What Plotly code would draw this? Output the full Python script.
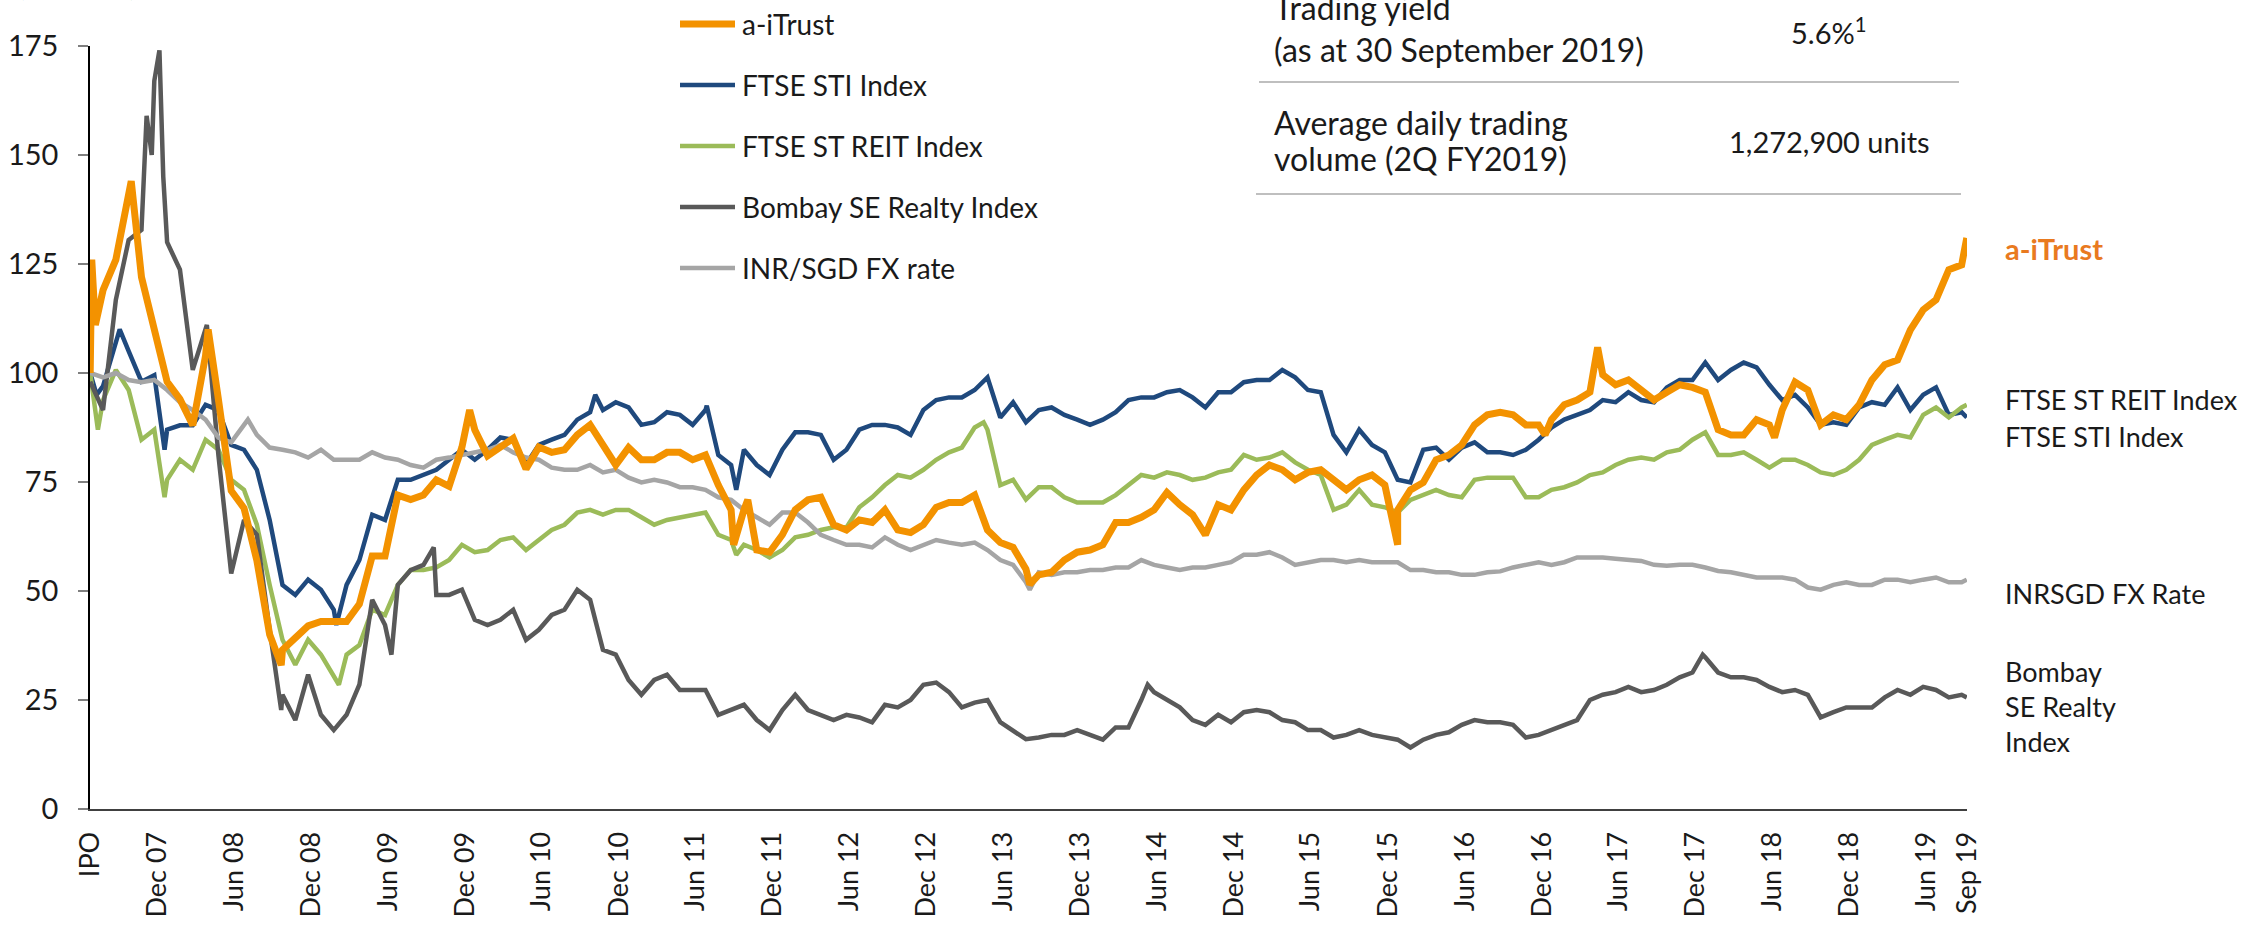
import plotly.graph_objects as go
import pandas as pd

# ---------------- data ----------------
IPO_DATE = "2007-07-19"
MONTHS = list(range(147)) + [146.4]          # months since IPO
DAYS_PER_MONTH = 30.437

SERIES_NAMES = ["a-iTrust", "FTSE STI Index", "FTSE ST REIT Index",
                "Bombay SE Realty Index", "INR/SGD FX rate"]

A_ITRUST = [100, 119, 126, 140, 122, 110, 98, 94, 88, 104, 94, 73, 69, 57, 40, 36.5, 39, 42, 43, 43,
            43, 47, 58, 58, 72, 71, 72, 75.5, 74, 83, 87, 81, 83, 85, 78, 83, 81.8, 82.4, 85.8, 88.1,
            83.5, 78.9, 82.9, 80.1, 80.1, 81.8, 81.8, 80.1, 81.2, 74.3, 68.6, 68.6, 59.4, 58.9, 62.9, 68.6, 70.9, 71.5, 65.2, 64,
            66.3, 65.7, 68.6, 64, 63.4, 65.2, 69.2, 70.3, 70.3, 72, 64, 61.1, 60, 55, 53.7, 54.3, 57.1, 58.9, 59.4, 60.6,
            65.7, 65.7, 66.9, 68.6, 72.6, 69.8, 67.5, 62.9, 69.8, 68.6, 73.2, 76.6, 78.9, 77.8, 75.5, 77.2, 77.8, 75.5, 73.2, 75.5,
            76.6, 74.3, 68.6, 73.2, 74.9, 80.1, 81.2, 83.5, 88.1, 90.4, 91, 90.4, 88.1, 88.1, 89.3, 92.7, 93.8, 95.6, 99.6, 97.3,
            98.4, 96.1, 93.8, 95.6, 97.3, 96.7, 95.6, 87, 85.8, 85.8, 89.3, 88.1, 91.5, 97.9, 96.1, 88.1, 90.4, 89.3, 92.7, 98.4,
            101.9, 103, 109.9, 114.5, 116.8, 123.7, 124.8, 131]
A_ITRUST_EXTRA_M = [0.12, 0.4, 3.2, 9.2, 14.9, 29.6, 50.2, 51.3, 73.3, 102.0, 113.5, 117.6, 131.4]
A_ITRUST_EXTRA_V = [126, 111, 144, 110, 33, 91.5, 60.6, 70.9, 51.5, 60.6, 85.8, 105.9, 85.2]

STI = [100, 97, 107.6, 105, 98, 99.5, 87, 88, 88, 92.7, 91.5, 83.5, 82.4, 77.8, 66.3, 51.4, 49.1, 52.6, 50.3, 45.7,
       51.4, 57.1, 67.5, 66.3, 75.5, 75.5, 76.6, 77.8, 80.1, 82.4, 80.1, 82.4, 85.2, 84.7, 79, 83.5, 84.7, 85.8, 89.3, 91,
       91.5, 93.3, 92.1, 88.1, 88.7, 91, 90.4, 88.1, 91.5, 81.2, 78.9, 82.4, 78.9, 76.6, 82.4, 86.4, 86.4, 85.8, 80.1, 82.4,
       87, 88.1, 88.1, 87.5, 85.8, 91.5, 93.8, 94.4, 94.4, 96.1, 99, 89.8, 93.3, 88.7, 91.5, 92.1, 90.4, 89.3, 88.1, 89.3,
       91, 93.8, 94.4, 94.4, 95.6, 96.1, 94.4, 92.1, 95.6, 95.6, 97.9, 98.4, 98.4, 100.7, 99, 96.1, 95.6, 85.8, 81.8, 87,
       83.5, 81.8, 75.5, 74.9, 82.4, 82.9, 80.1, 82.9, 84.1, 81.8, 81.8, 81.2, 82.4, 84.7, 87.5, 89.3, 90.4, 91.5, 93.8, 93.3,
       95.6, 93.8, 93.3, 96.7, 98.4, 98.4, 102.4, 98.4, 100.7, 102.4, 101.3, 97.3, 93.8, 95, 92.1, 88.1, 88.7, 88.1, 92.1, 93.3,
       92.7, 96.7, 91.5, 95, 96.7, 90.4, 91, 89.8]
STI_EXTRA_M = [0.5, 2.3, 5.8, 19.2, 39.4, 48.1, 50.4]
STI_EXTRA_V = [95, 110, 82.4, 42.2, 95, 92.5, 73.2]

REIT = [100, 93.8, 100.7, 96.1, 84.7, 87, 75.5, 80.1, 77.8, 84.7, 82.4, 75.5, 73.2, 65.2, 51.4, 38.8, 33.1, 38.8, 35.4, 30.8,
        35.4, 37.6, 45.7, 44.5, 51.4, 54.8, 54.8, 55.4, 57.1, 60.6, 58.9, 59.4, 61.7, 62.3, 59.4, 61.7, 64, 65.2, 68, 68.6,
        67.5, 68.6, 68.6, 66.9, 65.2, 66.3, 66.9, 67.5, 68, 62.9, 61.7, 60.6, 59.4, 57.7, 59.4, 62.3, 62.9, 64, 64.6, 64.6,
        69.2, 71.5, 74.3, 76.6, 76, 77.8, 80.1, 81.8, 82.9, 87.5, 87, 74.3, 75.5, 71, 73.8, 73.8, 71.5, 70.3, 70.3, 70.3,
        72, 74.3, 76.6, 76, 77.2, 76.6, 75.5, 76, 77.2, 77.8, 81.2, 80.1, 80.6, 81.8, 79.5, 77.8, 76.6, 68.6, 69.8, 73.2,
        69.8, 69.2, 68, 70.9, 72, 73.2, 72, 71.5, 75.5, 76, 76, 76, 71.5, 71.5, 73.2, 73.8, 74.9, 76.6, 77.2, 78.9,
        80.1, 80.6, 80.1, 81.8, 82.4, 84.7, 86.4, 81.2, 81.2, 81.8, 80.1, 78.3, 80.1, 80.1, 78.9, 77.2, 76.6, 77.8, 80.1, 83.5,
        84.7, 85.8, 85.2, 90.4, 92.1, 89.8, 92.1, 92.7]
REIT_EXTRA_M = [0.6, 5.8, 19.4, 50.4, 69.7]
REIT_EXTRA_V = [87, 71.5, 28.5, 58.3, 88.7]

BOMBAY = [98, 91.5, 116.8, 130.5, 132.8, 167, 130, 123.7, 100.7, 109.9, 81.2, 54, 66.3, 62.9, 41.1, 26.2, 20.4, 30.8, 21.6, 18.1,
          21.6, 28.5, 48, 42.2, 51.4, 54.8, 56, 49.1, 49.1, 50.3, 43.4, 42.2, 43.4, 45.7, 38.8, 41.1, 44.5, 45.7, 50.3, 48,
          36.5, 35.4, 29.6, 26.2, 29.6, 30.8, 27.3, 27.3, 27.3, 21.6, 22.7, 23.9, 20.4, 18.1, 22.7, 26.2, 22.7, 21.6, 20.4, 21.6,
          21, 19.9, 23.9, 23.3, 25, 28.5, 29, 26.8, 23.3, 24.4, 25, 19.9, 18.1, 16, 16.4, 17, 17, 18.1, 17, 15.9,
          18.7, 18.7, 25, 26.8, 25, 23.3, 20.4, 19.3, 21.6, 19.9, 22.2, 22.7, 22.2, 20.4, 19.9, 18.1, 18.1, 16.4, 17, 18.1,
          17, 16.4, 15.9, 14.1, 15.9, 17, 17.6, 19.3, 20.4, 19.9, 19.9, 19.3, 16.4, 17, 18.1, 19.3, 20.4, 25, 26.2, 26.8,
          28, 26.8, 27.3, 28.5, 30.2, 31.3, 34.8, 31.3, 30.2, 30.2, 29.6, 28, 26.8, 27.3, 26.2, 21, 22.2, 23.3, 23.3, 23.3,
          25.6, 27.3, 26.2, 28, 27.3, 25.6, 26.2, 25.6]
BOMBAY_EXTRA_M = [4.4, 4.8, 5.4, 5.7, 9.1, 14.9, 23.5, 26.8, 82.5, 125.8]
BOMBAY_EXTRA_V = [159, 150, 174, 145, 111, 22.7, 35.4, 60, 28.5, 35.4]

INRSGD = [100, 99, 100, 98.4, 97.9, 98.4, 96.1, 93.3, 91.5, 89.3, 85.2, 84.1, 88.1, 85.8, 82.9, 82.4, 81.8, 80.6, 82.4, 80.1,
          80.1, 80.1, 81.8, 80.6, 80.1, 78.9, 78.3, 80.1, 80.6, 81.2, 81.8, 82.4, 83.5, 81.8, 80.6, 80.1, 78.3, 77.8, 77.8, 78.9,
          77.2, 77.8, 76, 74.9, 75.5, 74.9, 73.8, 73.8, 73.2, 71.5, 70.9, 68.6, 66.9, 65.2, 68, 68, 65.7, 62.9, 61.7, 60.6,
          60.6, 60, 62.3, 60.6, 59.4, 60.6, 61.7, 61.1, 60.6, 61.1, 59.4, 57.1, 56, 52, 54.3, 53.7, 54.3, 54.3, 54.8, 54.8,
          55.4, 55.4, 57.1, 56, 55.4, 54.8, 55.4, 55.4, 56, 56.6, 58.3, 58.3, 58.9, 57.7, 56, 56.6, 57.1, 57.1, 56.6, 57.1,
          56.6, 56.6, 56.6, 54.8, 54.8, 54.3, 54.3, 53.7, 53.7, 54.3, 54.5, 55.4, 56, 56.6, 56, 56.6, 57.7, 57.7, 57.7, 57.4,
          57.1, 56.9, 56, 55.8, 56, 56, 55.4, 54.6, 54.3, 53.7, 53.1, 53.1, 53.1, 52.6, 50.8, 50.3, 51.4, 52, 51.4, 51.4,
          52.6, 52.6, 52, 52.6, 53.1, 52, 52, 52.6]
INRSGD_EXTRA_M = [12.3, 73.3]
INRSGD_EXTRA_V = [89.3, 50.3]

TICK_TEXT = ["IPO", "Dec 07", "Jun 08", "Dec 08", "Jun 09", "Dec 09", "Jun 10", "Dec 10", "Jun 11", "Dec 11",
             "Jun 12", "Dec 12", "Jun 13", "Dec 13", "Jun 14", "Dec 14", "Jun 15", "Dec 15", "Jun 16", "Dec 16",
             "Jun 17", "Dec 17", "Jun 18", "Dec 18", "Jun 19", "Sep 19"]
TICK_DATES = ["2007-07-19", "2007-12-25", "2008-06-25", "2008-12-25", "2009-06-25", "2009-12-25", "2010-06-25",
              "2010-12-25", "2011-06-25", "2011-12-25", "2012-06-25", "2012-12-25", "2013-06-25", "2013-12-25",
              "2014-06-25", "2014-12-25", "2015-06-25", "2015-12-25", "2016-06-25", "2016-12-25", "2017-06-25",
              "2017-12-25", "2018-06-25", "2018-12-25", "2019-06-25", "2019-09-30"]
Y_TICKS = [0, 25, 50, 75, 100, 125, 150, 175]

RIGHT_LABELS = ["a-iTrust", "FTSE ST REIT Index", "FTSE STI Index", "INRSGD FX Rate", "Bombay<br>SE Realty<br>Index"]
TABLE_ROW1 = ["Trading yield", "(as at 30 September 2019)"]
TABLE_VAL1 = "5.6%<sup>1</sup>"
TABLE_ROW2 = ["Average daily trading", "volume (2Q FY2019)"]
TABLE_VAL2 = "1,272,900 units"
UNIT_LABEL = "(Rebased)"

# ---------------- styling / layout ----------------
COLORS = ["#F39200", "#1F497D", "#9BBB59", "#595959", "#A5A5A5"]
WIDTHS = [7, 4.5, 4.5, 4.5, 4.5]
W, H = 2246, 929
L, R, T, B = 90, 279, 46, 120
PW, PH = W - L - R, H - T - B
FONT = "Lato"
TXT = "#1a1a1a"


def px_x(px):
    return (px - L) / PW


def px_y(py):
    return (H - B - py) / PH


def to_dates(months):
    base = pd.Timestamp(IPO_DATE)
    return [base + pd.Timedelta(days=m * DAYS_PER_MONTH) for m in months]


series = [
    (A_ITRUST, A_ITRUST_EXTRA_M, A_ITRUST_EXTRA_V),
    (STI, STI_EXTRA_M, STI_EXTRA_V),
    (REIT, REIT_EXTRA_M, REIT_EXTRA_V),
    (BOMBAY, BOMBAY_EXTRA_M, BOMBAY_EXTRA_V),
    (INRSGD, INRSGD_EXTRA_M, INRSGD_EXTRA_V),
]

fig = go.Figure()
order = [1, 2, 3, 4, 0]
for i in order:
    vals, em, ev = series[i]
    pts = sorted(list(zip(MONTHS, vals)) + list(zip(em, ev)))
    fig.add_trace(go.Scatter(
        x=to_dates([p[0] for p in pts]), y=[p[1] for p in pts],
        mode="lines", name=SERIES_NAMES[i],
        line=dict(color=COLORS[i], width=WIDTHS[i]),
        showlegend=False,
    ))

start = pd.Timestamp(IPO_DATE) - pd.Timedelta(hours=12)
end = pd.Timestamp(TICK_DATES[-1]) + pd.Timedelta(hours=12)

fig.update_layout(
    width=W, height=H,
    margin=dict(l=L, r=R, t=T, b=B, autoexpand=False),
    plot_bgcolor="white", paper_bgcolor="white",
    font=dict(family=FONT, size=28, color=TXT),
    showlegend=False,
)
fig.update_xaxes(
    type="date", range=[start, end],
    tickvals=[pd.Timestamp(d) for d in TICK_DATES], ticktext=TICK_TEXT,
    tickangle=-90, ticks="", ticklabelstandoff=10,
    tickfont=dict(family=FONT, size=27, color=TXT),
    showgrid=False, zeroline=False,
    showline=True, linecolor="#404040", linewidth=2,
)
fig.update_yaxes(
    range=[0, 175], tickvals=Y_TICKS,
    ticks="outside", ticklen=10, tickcolor="#7f7f7f", tickwidth=1.5,
    ticklabelstandoff=14,
    tickfont=dict(family=FONT, size=29, color=TXT),
    showgrid=False, zeroline=False,
    showline=True, linecolor="#000000", linewidth=1.5,
)

shapes = []
annotations = []

# custom legend
LEG_Y = [24, 85, 146, 207, 268]
for i, name in enumerate(SERIES_NAMES):
    shapes.append(dict(type="line", xref="paper", yref="paper",
                       x0=px_x(680), x1=px_x(735), y0=px_y(LEG_Y[i]), y1=px_y(LEG_Y[i]),
                       line=dict(color=COLORS[i], width=WIDTHS[i]), layer="above"))
    annotations.append(dict(xref="paper", yref="paper", x=px_x(740), y=px_y(LEG_Y[i]),
                            xanchor="left", yanchor="middle", showarrow=False,
                            text=name, font=dict(family=FONT, size=28, color=TXT)))

# right-hand labels
RIGHT_Y = [248, 399, 436, 593, 706]
for j, lab in enumerate(RIGHT_LABELS):
    if j == 0:
        f = dict(family=FONT, size=29, color="#E97A1F")
        txt = "<b>" + lab + "</b>"
    else:
        f = dict(family=FONT, size=27, color=TXT)
        txt = lab
    annotations.append(dict(xref="paper", yref="paper", x=px_x(2003), y=px_y(RIGHT_Y[j]),
                            xanchor="left", yanchor="middle", showarrow=False,
                            text=txt, align="left", font=f))

# table (top right)
TAB_FONT = dict(family=FONT, size=32, color=TXT)
VAL_FONT = dict(family=FONT, size=29, color=TXT)
for txt, py in zip(TABLE_ROW1 + TABLE_ROW2, [8, 50, 122, 158]):
    annotations.append(dict(xref="paper", yref="paper", x=px_x(1272), y=px_y(py),
                            xanchor="left", yanchor="middle", showarrow=False,
                            text=txt, font=TAB_FONT))
annotations.append(dict(xref="paper", yref="paper", x=px_x(1829), y=px_y(31),
                        xanchor="center", yanchor="middle", showarrow=False,
                        text=TABLE_VAL1, font=VAL_FONT))
annotations.append(dict(xref="paper", yref="paper", x=px_x(1829), y=px_y(142),
                        xanchor="center", yanchor="middle", showarrow=False,
                        text=TABLE_VAL2, font=VAL_FONT))
for py, x0, x1 in [(82, 1259, 1959), (194, 1256, 1961)]:
    shapes.append(dict(type="line", xref="paper", yref="paper",
                       x0=px_x(x0), x1=px_x(x1), y0=px_y(py), y1=px_y(py),
                       line=dict(color="#BFBFBF", width=2)))

# unit label, almost entirely cut off at the top-left edge (as in the reference)
annotations.append(dict(xref="paper", yref="paper", x=px_x(16), y=px_y(-15),
                        xanchor="left", yanchor="middle", showarrow=False,
                        text=UNIT_LABEL, font=dict(family=FONT, size=28, color=TXT)))

fig.update_layout(shapes=shapes, annotations=annotations)
fig.write_html("out.html",
               config={"displayModeBar": False},
               post_script="document.body.style.margin='0';document.body.style.padding='0';")
